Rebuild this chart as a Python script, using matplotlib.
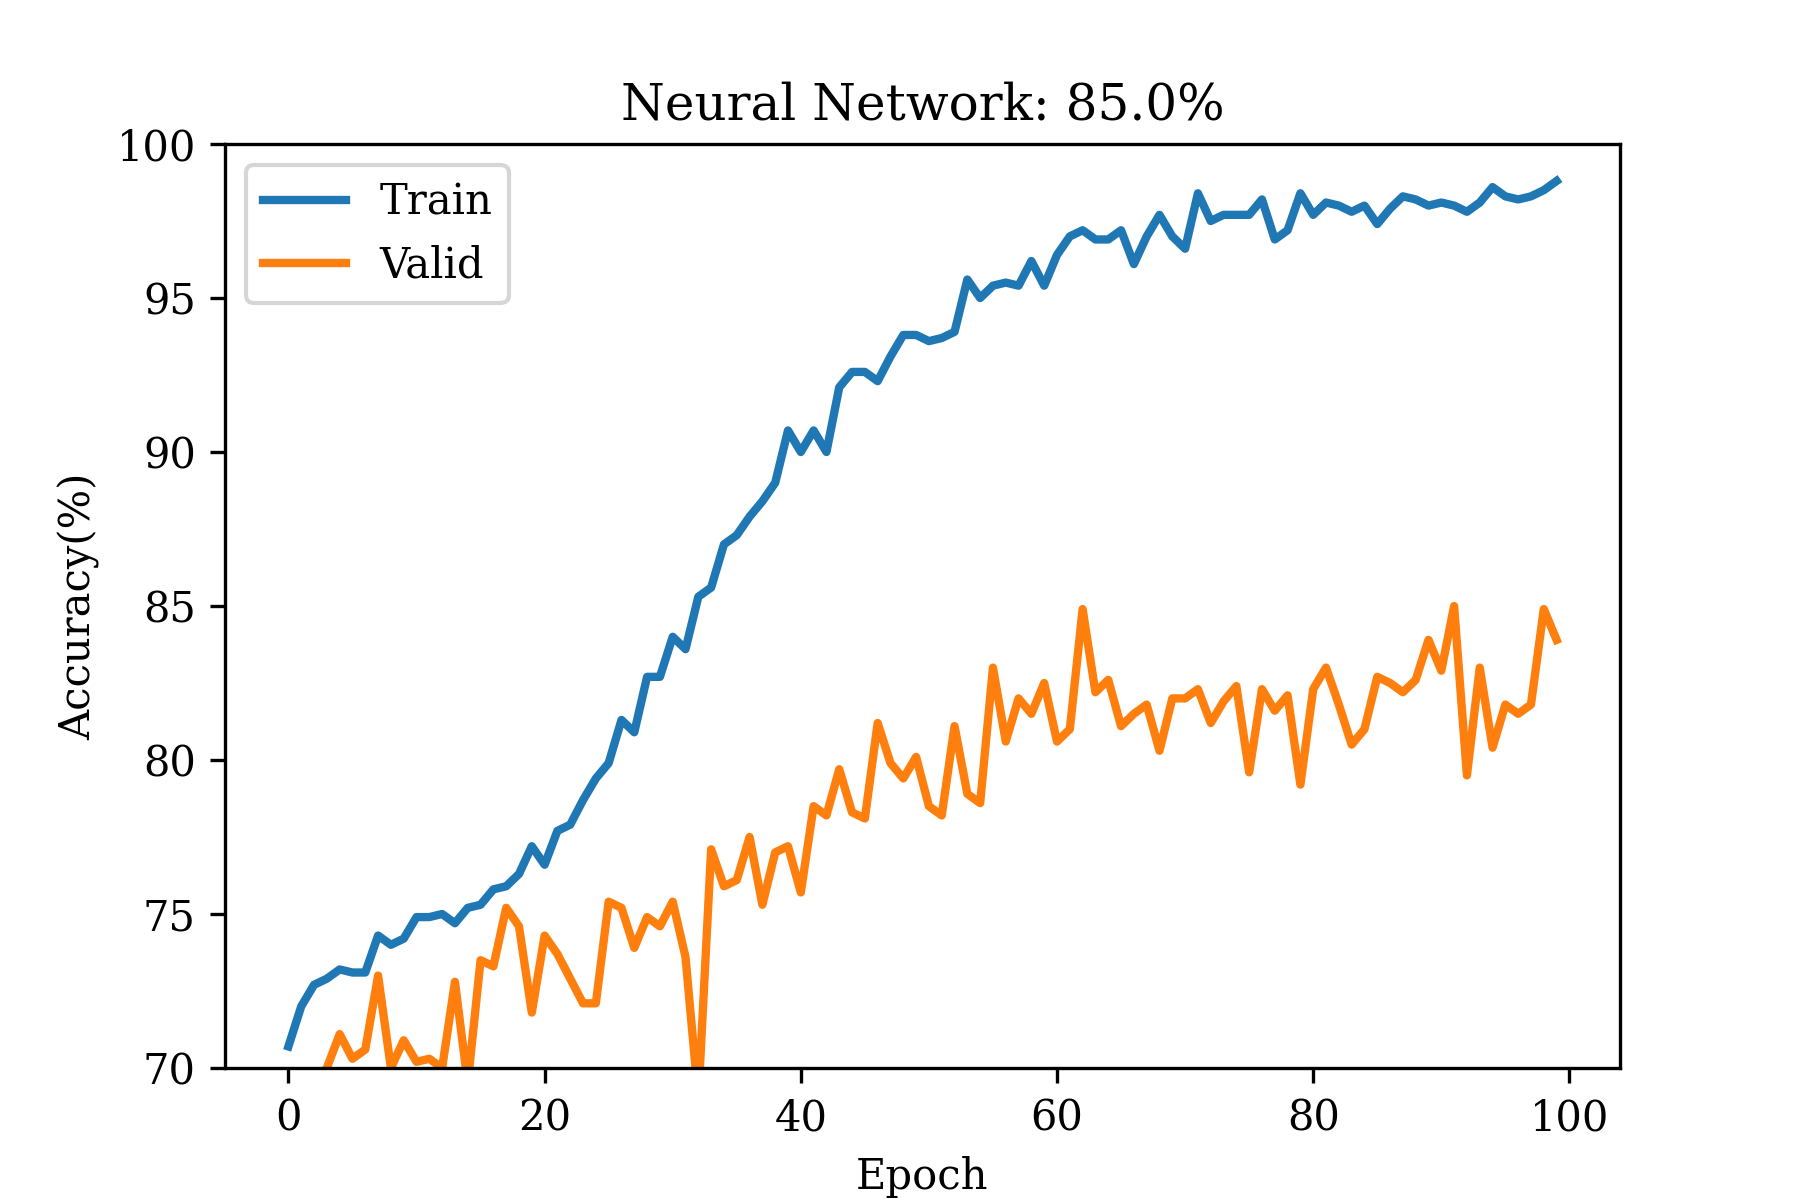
import matplotlib
matplotlib.use("Agg")
import matplotlib.pyplot as plt
import numpy as np

epochs = list(range(100))
train_acc = [70.7,72.0,72.7,72.9,73.2,73.1,73.1,74.3,74.0,74.2,74.9,74.9,75.0,74.7,75.2,75.3,75.8,75.9,76.3,77.2,
             76.6,77.7,77.9,78.7,79.4,79.9,81.3,80.9,82.7,82.7,84.0,83.6,85.3,85.6,87.0,87.3,87.9,88.4,89.0,90.7,
             90.0,90.7,90.0,92.1,92.6,92.6,92.3,93.1,93.8,93.8,93.6,93.7,93.9,95.6,95.0,95.4,95.5,95.4,96.2,95.4,
             96.4,97.0,97.2,96.9,96.9,97.2,96.1,97.0,97.7,97.0,96.6,98.4,97.5,97.7,97.7,97.7,98.2,96.9,97.2,98.4,
             97.7,98.1,98.0,97.8,98.0,97.4,97.9,98.3,98.2,98.0,98.1,98.0,97.8,98.1,98.6,98.3,98.2,98.3,98.5,98.8]
valid_acc = [68.0,69.0,69.5,70.0,71.1,70.3,70.6,73.0,70.0,70.9,70.2,70.3,70.0,72.8,69.5,73.5,73.3,75.2,74.6,71.8,
             74.3,73.7,72.9,72.1,72.1,75.4,75.2,73.9,74.9,74.6,75.4,73.6,69.0,77.1,75.9,76.1,77.5,75.3,77.0,77.2,
             75.7,78.5,78.2,79.7,78.3,78.1,81.2,79.9,79.4,80.1,78.5,78.2,81.1,78.9,78.6,83.0,80.6,82.0,81.5,82.5,
             80.6,81.0,84.9,82.2,82.6,81.1,81.5,81.8,80.3,82.0,82.0,82.3,81.2,81.9,82.4,79.6,82.3,81.6,82.1,79.2,
             82.3,83.0,81.8,80.5,81.0,82.7,82.5,82.2,82.6,83.9,82.9,85.0,79.5,83.0,80.4,81.8,81.5,81.8,84.9,83.9]

plt.rcParams['font.family'] = ['DejaVu Serif']
fig, ax = plt.subplots(figsize=(6, 4), dpi=300)
ax.plot(epochs, train_acc, color='#1f77b4', lw=2, label='Train')
ax.plot(epochs, valid_acc, color='#ff7f0e', lw=2, label='Valid')
ax.set_ylim(70, 100)
ax.set_title('Neural Network: 85.0%')
ax.set_xlabel('Epoch')
ax.set_ylabel('Accuracy(%)')
ax.legend(loc='upper left')
fig.savefig('out.png', dpi=300)
